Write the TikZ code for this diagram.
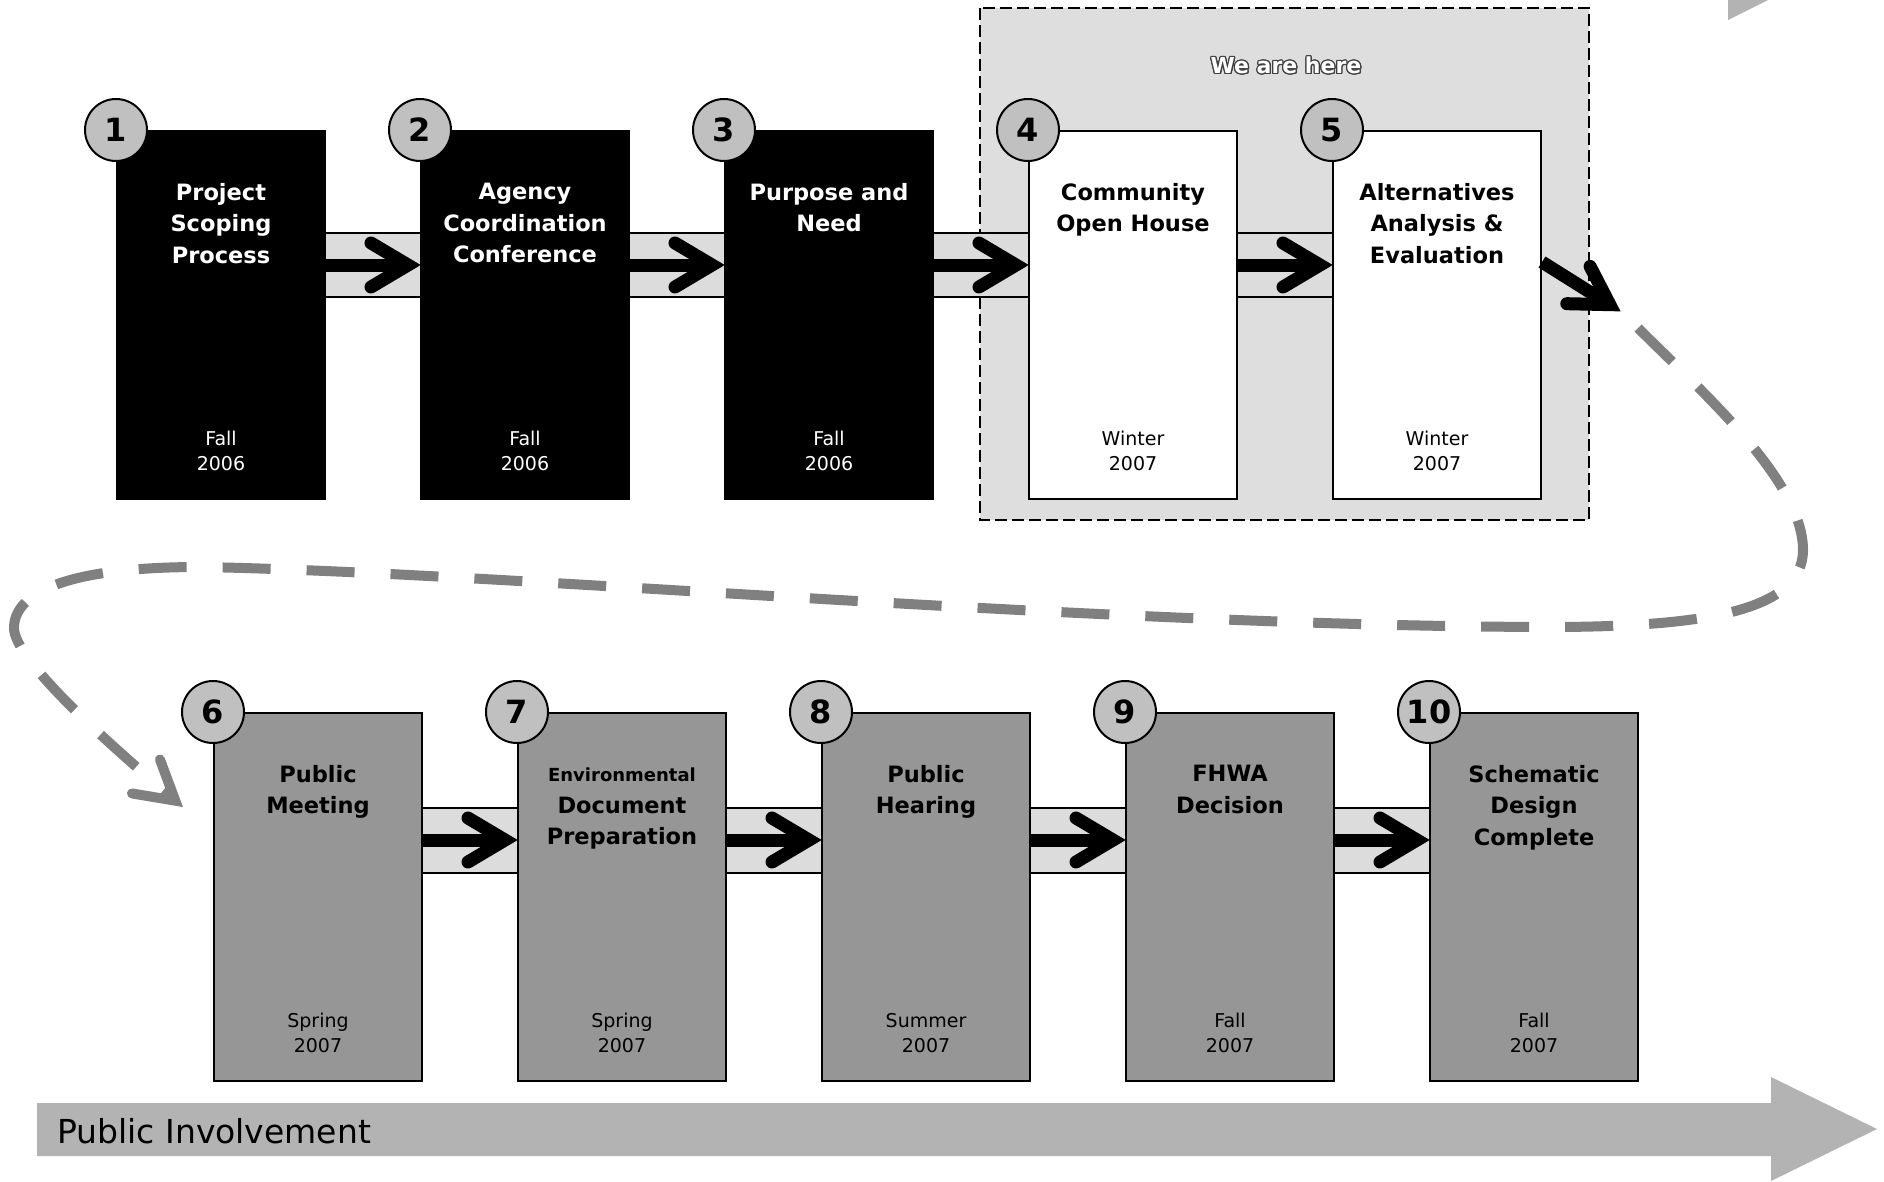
\documentclass[tikz,border=0pt]{standalone}
\usepackage{fontspec}
\setmainfont{DejaVu Sans}
\usepackage{contour}
\usetikzlibrary{positioning,calc}

\definecolor{boxgray}{HTML}{969696}
\definecolor{numgray}{HTML}{C0C0C0}
\definecolor{bandgray}{HTML}{DCDCDC}
\definecolor{heregray}{HTML}{DEDEDE}
\definecolor{loopgray}{HTML}{808080}
\definecolor{pigray}{HTML}{B3B3B3}
\contourlength{1.2pt}

\tikzset{
  stage/.style={draw=black, line width=2pt, minimum width=208pt, minimum height=368pt, inner sep=0pt},
  done/.style={stage, fill=black},
  now/.style={stage, fill=white},
  later/.style={stage, fill=boxgray},
  ttl/.style={align=center, inner sep=0pt, font=\bfseries\fontsize{22.5}{31.5}\selectfont},
  when/.style={align=center, inner sep=0pt, font=\fontsize{19}{25}\selectfont},
  num/.style={circle, draw=black, line width=2pt, fill=numgray, minimum size=62pt, inner sep=0pt, font=\bfseries\fontsize{32}{32}\selectfont},
  band/.style={fill=bandgray},
  bandedge/.style={line width=2pt},
  shaft/.style={line width=13pt},
  chev/.style={line width=13pt, line cap=round, line join=miter},
  loopline/.style={loopgray, line width=10pt, dash pattern=on 48pt off 36pt},
  loopchev/.style={loopgray, line width=10pt, line cap=round, line join=miter}
}

\begin{document}
\begin{tikzpicture}[x=1pt,y=1pt,yscale=-1]
\useasboundingbox (0,0) rectangle (1884,1181);

%Shape: Arrow (tip of the one above)
\fill[pigray] (1728,0) -- (1728,20) -- (1768,0) -- cycle;
%Shape: Arrow
\fill[pigray] (37,1103) -- (1771,1103) -- (1771,1077) -- (1877,1129) -- (1771,1181) -- (1771,1156) -- (37,1156) -- cycle;
% Text Node
\node[anchor=base west, inner sep=0pt, font=\fontsize{33}{33}\selectfont] (pi) at (57,1143) {Public Involvement};

%Shape: Rectangle
\filldraw[fill=heregray, draw=black, line width=2pt, dash pattern=on 12pt off 5pt] (980,8) rectangle (1589,520);
% Text Node
\node[text=white, inner sep=0pt, font=\bfseries\fontsize{22}{22}\selectfont] (here) at (1286,66) {\contour{darkgray}{We are here}};

%Shape: Rectangle
\node[done, anchor=north west] (b1) at (116,130) {};
\node[done, right=94pt of b1] (b2) {};
\node[done, right=94pt of b2] (b3) {};
\node[now, right=94pt of b3] (b4) {};
\node[now, right=94pt of b4] (b5) {};
\node[later, anchor=north west] (b6) at (213,712) {};
\node[later, right=94pt of b6] (b7) {};
\node[later, right=94pt of b7] (b8) {};
\node[later, right=94pt of b8] (b9) {};
\node[later, right=94pt of b9] (b10) {};

% Text Node
\node[ttl, text=white, below=53pt of b1.north] (s1) {Project\\Scoping\\Process};
\node[ttl, text=white, below=53pt of b2.north] (s2) {Agency\\Coordination\\Conference};
\node[ttl, text=white, below=53pt of b3.north] (s3) {Purpose and\\Need};
\node[ttl, below=53pt of b4.north] (s4) {Community\\Open House};
\node[ttl, below=53pt of b5.north] (s5) {Alternatives\\Analysis \&\\Evaluation};
\node[ttl, below=53pt of b6.north] (s6) {Public\\Meeting};
\node[ttl, below=56pt of b7.north] (s7) {{\fontsize{18}{31.5}\selectfont Environmental}\\Document\\Preparation};
\node[ttl, below=53pt of b8.north] (s8) {Public\\Hearing};
\node[ttl, below=53pt of b9.north] (s9) {FHWA\\Decision};
\node[ttl, below=53pt of b10.north] (s10) {Schematic\\Design\\Complete};

% Text Node
\node[when, text=white, above=29pt of b1.south] (w1) {Fall\\2006};
\node[when, text=white, above=29pt of b2.south] (w2) {Fall\\2006};
\node[when, text=white, above=29pt of b3.south] (w3) {Fall\\2006};
\node[when, above=29pt of b4.south] (w4) {Winter\\2007};
\node[when, above=29pt of b5.south] (w5) {Winter\\2007};
\node[when, above=29pt of b6.south] (w6) {Spring\\2007};
\node[when, above=29pt of b7.south] (w7) {Spring\\2007};
\node[when, above=29pt of b8.south] (w8) {Summer\\2007};
\node[when, above=29pt of b9.south] (w9) {Fall\\2007};
\node[when, above=29pt of b10.south] (w10) {Fall\\2007};

%Shape: Circle
\foreach \i in {1,...,10}
  \node[num] (n\i) at (b\i.north west) {\i};

%Straight Lines
\coordinate (top1) at (0,233);
\coordinate (mid1) at (0,265);
\coordinate (bot1) at (0,297);
\coordinate (top2) at (0,808);
\coordinate (mid2) at (0,840);
\coordinate (bot2) at (0,873);
\foreach \a/\b/\r in {b1/b2/1,b2/b3/1,b3/b4/1,b4/b5/1,b6/b7/2,b7/b8/2,b8/b9/2,b9/b10/2}{
  \fill[band] (\a.east |- top\r) rectangle (\b.west |- bot\r);
  \draw[bandedge] (\a.east |- top\r) -- (\b.west |- top\r) (\a.east |- bot\r) -- (\b.west |- bot\r);
  \draw[shaft, shorten >=12pt] (\a.east |- mid\r) -- (\b.west |- mid\r);
  \draw[chev, shift={(\b.west |- mid\r)}] (-49,-22) -- (-12,0) -- (-49,22);
}

%Straight Lines
\coordinate (turn) at (1620,311);
\draw[shaft, shorten >=12pt] ($(b5.north east)+(0,132)$) -- (turn);
\draw[chev, shift={(turn)}, rotate=32] (-49,-22) -- (-12,0) -- (-49,22);

%Curve Lines
\coordinate (loopin) at (1638,328);
\coordinate (in6) at (183,807);
\draw[loopline, shorten >=10pt] (loopin) .. controls (1700,390) and (1803,480) .. (1803,550) .. controls (1803,612) and (1700,626) .. (1560,627) .. controls (1100,627) and (500,572) .. (200,567) .. controls (60,567) and (14,595) .. (14,628) .. controls (14,660) and (110,745) .. (in6);
\draw[loopchev, shift={(in6)}, rotate=39.5] (-48,-22) -- (-10,0) -- (-48,22);

\end{tikzpicture}
\end{document}
